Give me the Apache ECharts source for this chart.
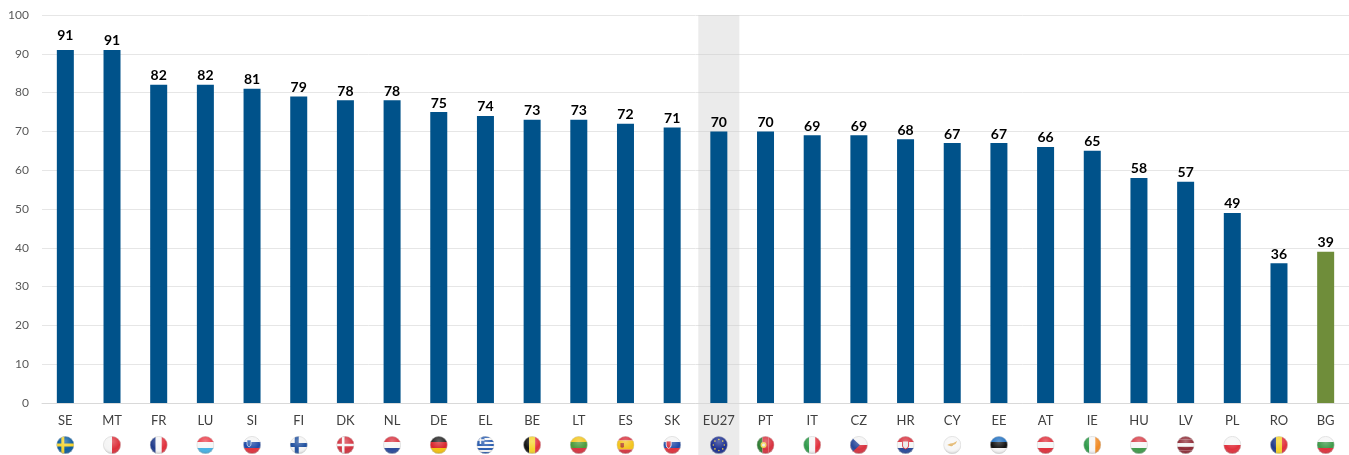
<!DOCTYPE html>
<html>
<head>
<meta charset="utf-8">
<style>
html, body { margin: 0; padding: 0; background: #fff; }
#chart { width: 1349px; height: 455px; }
</style>
<script src="https://cdn.jsdelivr.net/npm/echarts@6/dist/echarts.min.js"></script>
</head>
<body>
<div id="chart"></div>
<script>
const categories = ['SE','MT','FR','LU','SI','FI','DK','NL','DE','EL','BE','LT','ES','SK','EU27','PT','IT','CZ','HR','CY','EE','AT','IE','HU','LV','PL','RO','BG']
const values = [91,91,82,82,81,79,78,78,75,74,73,73,72,71,70,70,69,69,68,67,67,66,65,58,57,49,36,39]
const yTicks = [0,10,20,30,40,50,60,70,80,90,100]

// flag drawings: stripe direction + colours, extra svg on top
const flagStripes = {
    SE: ['h','#0b5c9e'], MT: ['v','#f4f4f4','#dc2f3a'], FR: ['v','#1f3a8a','#f6f6f6','#e0303c'],
    LU: ['h','#ea3f4b','#f6f6f6','#45b1e4'], SI: ['h','#f4f4f4','#1f4aa8','#e0303c'], FI: ['h','#f4f4f4'],
    DK: ['h','#d3323f'], NL: ['h','#d8323f','#f6f6f6','#27489a'], DE: ['h','#222','#d8262c','#f4c20d'],
    EL: ['h','#2a5db0','#f6f6f6','#2a5db0','#f6f6f6','#2a5db0','#f6f6f6','#2a5db0','#f6f6f6','#2a5db0'],
    BE: ['v','#111','#f5d32a','#e0303c'], LT: ['h','#f2c51c','#4a9a3a','#d8323f'],
    ES: ['h','#d8323f','#f3c41c','#f3c41c','#d8323f'], SK: ['h','#f4f4f4','#1f4aa8','#e0303c'],
    EU27: ['h','#1c2f8f'], PT: ['v','#2f7d32','#d8323f','#d8323f'], IT: ['v','#2f9a4a','#f6f6f6','#e0303c'],
    CZ: ['h','#f4f4f4','#d8323f'], HR: ['h','#d8323f','#f6f6f6','#27489a'], CY: ['h','#f7f7f7'],
    EE: ['h','#1f6fc0','#111','#f6f6f6'], AT: ['h','#e0303c','#f6f6f6','#e0303c'],
    IE: ['v','#2f9a4a','#f6f6f6','#f08a24'], HU: ['h','#d8404a','#f6f6f6','#3f9a4a'],
    LV: ['h','#8e2a35','#8e2a35','#f6f6f6','#8e2a35','#8e2a35'], PL: ['h','#f6f6f6','#e0303c'],
    RO: ['v','#1f3a8a','#f5d32a','#e0303c'], BG: ['h','#f6f6f6','#3f9a4a','#e0303c']
}
const flagExtras = {
    SE: '<path d="M0 7.5h18v3H0zM5 0h3v18H5z" fill="#f5d32a"/>',
    FI: '<path d="M0 7h18v4H0zM5 0h4v18H5z" fill="#1f4f9e"/>',
    DK: '<path d="M0 7.7h18v2.6H0zM5.5 0h2.6v18H5.500z" fill="#f6f6f6"/>',
    SI: '<path d="M4 4h4v4q0 2-2 3-2-1-2-3z" fill="#2a5db0" stroke="#fff" stroke-width=".6"/>',
    SK: '<path d="M3 5h5v4q0 2.500-2.500 3.500Q3 11.500 3 9z" fill="#d8323f" stroke="#fff" stroke-width=".8"/>',
    EL: '<path d="M0 0h8v8H0z" fill="#2a5db0"/><path d="M3.200 0h1.600v8H3.200zM0 3.200h8v1.600H0z" fill="#f6f6f6"/>',
    ES: '<path d="M4 7h3.500v4q-1.700 1.500-3.500 0z" fill="#b5452a"/>',
    PT: '<circle cx="7" cy="9" r="3" fill="#f0cf4a"/><circle cx="7" cy="9" r="1.500" fill="#e9e9e9"/>',
    CZ: '<path d="M0 0l10 9L0 18z" fill="#26479a"/>',
    HR: '<path d="M6 5h6v5q0 2-3 3-3-1-3-3z" fill="#e9e9e9" stroke="#d8323f"/>',
    CY: '<path d="M4 9q3-2 6-2l4-2q-1 3-4 4-1 2-3 1z" fill="#e0b060"/>',
    EU27: '<g fill="#e8cc40"><circle cx="9" cy="3.500" r=".8"/><circle cx="12.900" cy="5.100" r=".8"/><circle cx="14.500" cy="9" r=".8"/><circle cx="12.900" cy="12.900" r=".8"/><circle cx="9" cy="14.500" r=".8"/><circle cx="5.100" cy="12.900" r=".8"/><circle cx="3.500" cy="9" r=".8"/><circle cx="5.100" cy="5.100" r=".8"/></g>'
}

function flagUri(code) {
    const [dir, ...cols] = flagStripes[code]
    const step = 18 / cols.length
    const bands = cols.map((c, i) => dir === 'h'
        ? `<rect x="0" y="${i * step}" width="18" height="${step}" fill="${c}"/>`
        : `<rect x="${i * step}" y="0" width="${step}" height="18" fill="${c}"/>`).join('')
    const svg = `<svg xmlns="http://www.w3.org/2000/svg" width="18" height="18" viewBox="0 0 18 18">
<defs><clipPath id="c"><circle cx="9" cy="9" r="8.700"/></clipPath>
<radialGradient id="g" cx="50%" cy="30%" r="75%"><stop offset="0" stop-color="#fff" stop-opacity=".3"/><stop offset=".6" stop-color="#fff" stop-opacity="0"/><stop offset="1" stop-color="#000" stop-opacity=".28"/></radialGradient></defs>
<g clip-path="url(#c)">${bands}${flagExtras[code] || ''}<rect width="18" height="18" fill="url(#g)"/></g>
<circle cx="9" cy="9" r="8.600" fill="none" stroke="#cfcfcf" stroke-width=".5"/></svg>`
    return 'data:image/svg+xml;charset=utf-8,' + encodeURIComponent(svg)
}

const Mycharts = echarts.init(document.getElementById('chart'))
const option = {
    animation: false,
    textStyle: { fontFamily: 'Lato' },
    grid: { left: 42, top: 15, width: 1308.5, height: 388, containLabel: false },
    xAxis: {
        type: 'category',
        data: categories,
        z: 2,
        axisTick: { show: false },
        axisLine: { lineStyle: { color: '#d9d9d9', width: 1 } },
        axisLabel: { color: '#404040', fontSize: 13, margin: 11, interval: 0 }
    },
    yAxis: {
        type: 'value',
        min: yTicks[0],
        max: yTicks[yTicks.length - 1],
        interval: 10,
        axisLine: { show: false },
        axisTick: { show: false },
        axisLabel: { color: '#595959', fontSize: 12, margin: 13 },
        splitLine: { lineStyle: { color: '#e6e6e6', width: 1 } }
    },
    series: [
        {
            // grey band behind EU27, runs down past the axis to the page bottom
            type: 'custom',
            silent: true,
            clip: false,
            z: 1,
            data: [[categories.indexOf('EU27'), 100]],
            renderItem: (params, api) => {
                const top = api.coord([api.value(0), api.value(1)])
                return {
                    type: 'rect',
                    shape: { x: top[0] - 20.5, y: top[1], width: 41, height: api.getHeight() - top[1] },
                    style: { fill: 'rgba(200,200,200,0.36)' }
                }
            }
        },
        {
            type: 'bar',
            barWidth: 17,
            z: 3,
            data: values.map((v, i) => ({
                value: v,
                itemStyle: { color: categories[i] === 'BG' ? '#6f8d3a' : '#00528a' },
                label: i === 0 ? { distance: 7 } : undefined
            })),
            label: {
                show: true,
                position: 'top',
                distance: 2,
                color: '#000',
                fontSize: 14,
                fontWeight: 'bold'
            }
        },
        {
            type: 'custom',
            silent: true,
            clip: false,
            z: 3,
            data: categories.map((c, i) => [i, 0]),
            renderItem: (params, api) => {
                const p = api.coord([api.value(0), api.value(1)])
                return {
                    type: 'image',
                    style: { image: flagUri(categories[params.dataIndex]), x: p[0] - 9, y: p[1] + 33, width: 18, height: 18 }
                }
            }
        }
    ]
}
Mycharts.setOption(option)
</script>
</body>
</html>
